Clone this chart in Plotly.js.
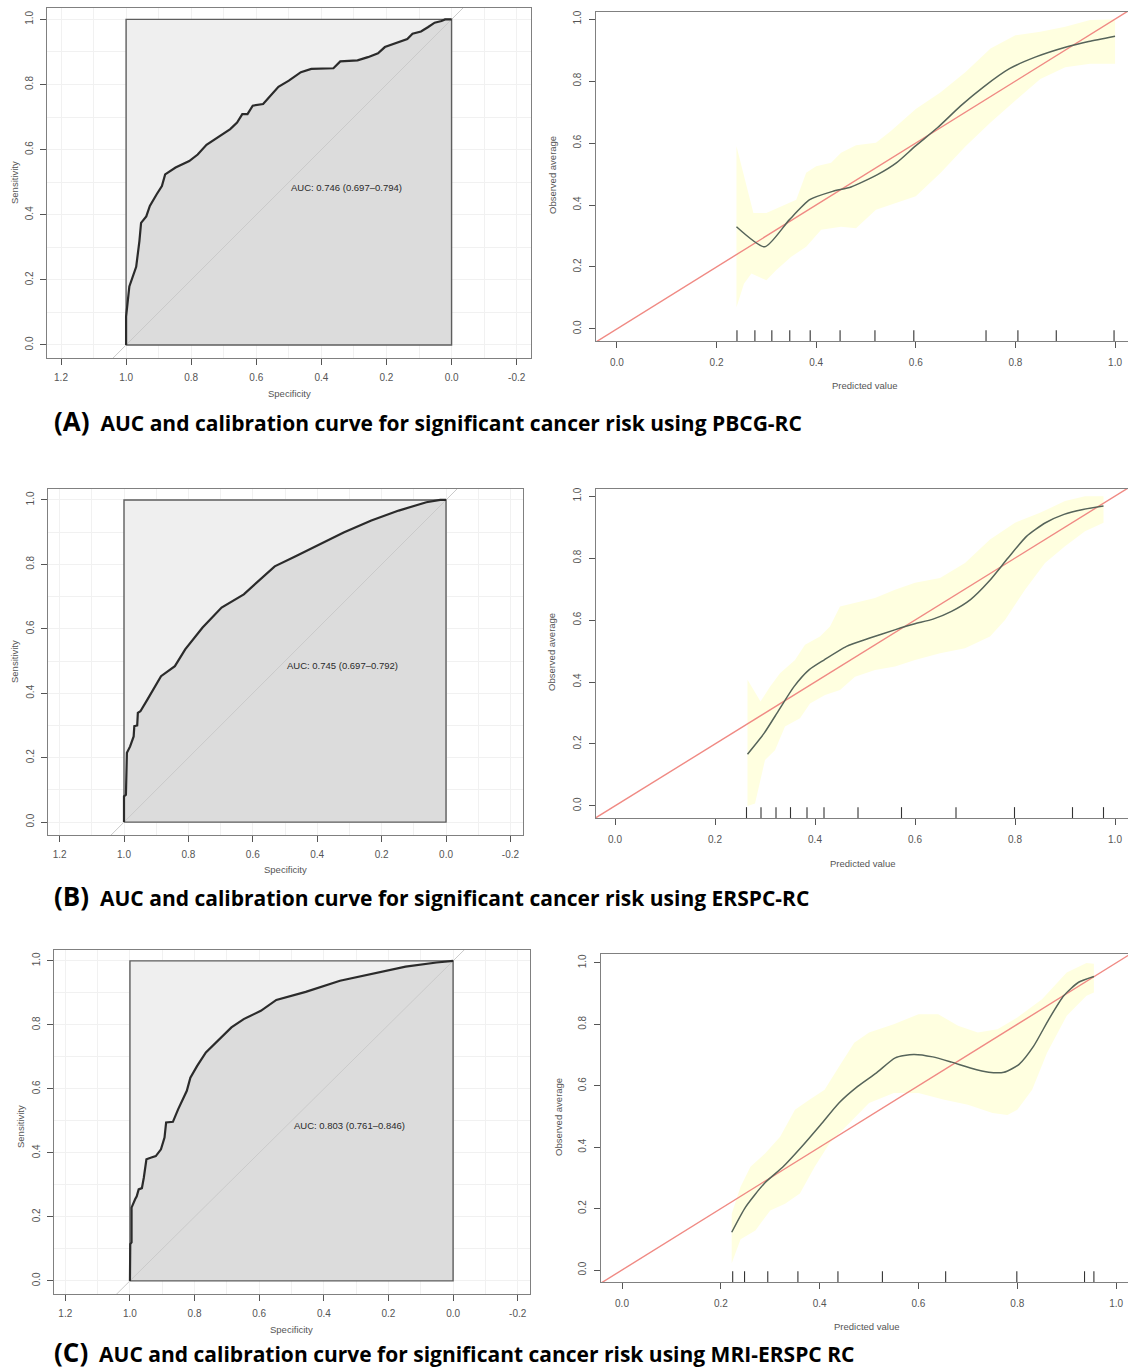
<!DOCTYPE html>
<html>
<head>
<meta charset="utf-8">
<script src="https://cdn.plot.ly/plotly-3.0.1.min.js"></script>
<style>html,body{margin:0;padding:0;background:#fff;}#chart{width:1128px;height:1369px;}</style>
</head>
<body>
<div id="chart"></div>
<script>
// ---------------- DATA ----------------
// ROC curves (specificity, sensitivity)
const rocA_spec = [1, 1, 0.99, 0.98, 0.969, 0.959, 0.954, 0.938, 0.927, 0.906, 0.89, 0.88, 0.848, 0.806, 0.78, 0.753, 0.711, 0.68, 0.659, 0.643, 0.627, 0.611, 0.579, 0.553, 0.532, 0.5, 0.463, 0.431, 0.363, 0.342, 0.289, 0.257, 0.226, 0.205, 0.162, 0.136, 0.12, 0.094, 0.073, 0.052, 0.031, 0.02, 0];
const rocA_sens = [0, 0.087, 0.18, 0.21, 0.24, 0.32, 0.375, 0.395, 0.427, 0.463, 0.488, 0.524, 0.545, 0.565, 0.585, 0.615, 0.642, 0.663, 0.683, 0.709, 0.709, 0.735, 0.74, 0.77, 0.793, 0.812, 0.838, 0.848, 0.85, 0.871, 0.874, 0.884, 0.896, 0.915, 0.93, 0.94, 0.956, 0.963, 0.976, 0.99, 0.995, 1.0, 1.0];

const rocB_spec = [1, 1, 0.994, 0.991, 0.981, 0.97, 0.968, 0.959, 0.957, 0.949, 0.927, 0.906, 0.885, 0.842, 0.81, 0.756, 0.697, 0.628, 0.564, 0.532, 0.467, 0.382, 0.318, 0.232, 0.147, 0.061, 0.018, 0];
const rocB_sens = [0, 0.08, 0.085, 0.215, 0.235, 0.266, 0.298, 0.30, 0.339, 0.344, 0.381, 0.417, 0.453, 0.484, 0.536, 0.604, 0.666, 0.707, 0.765, 0.794, 0.825, 0.868, 0.899, 0.936, 0.967, 0.993, 1.0, 1.0];

const rocC_spec = [1, 0.999, 0.995, 0.995, 0.984, 0.979, 0.973, 0.963, 0.957, 0.949, 0.936, 0.92, 0.904, 0.893, 0.888, 0.867, 0.851, 0.824, 0.813, 0.792, 0.765, 0.723, 0.686, 0.648, 0.595, 0.547, 0.456, 0.35, 0.254, 0.147, 0.051, 0];
const rocC_sens = [0, 0.115, 0.12, 0.229, 0.255, 0.264, 0.286, 0.29, 0.323, 0.38, 0.385, 0.39, 0.411, 0.448, 0.495, 0.497, 0.536, 0.594, 0.635, 0.672, 0.714, 0.755, 0.792, 0.818, 0.844, 0.878, 0.903, 0.938, 0.958, 0.982, 0.995, 1.0];

const maxAucX = [1, 0, 0, 1, 1];
const maxAucY = [0, 0, 1, 1, 0];
const rocDiagX = [1.4, -0.4];
const rocDiagY = [-0.4, 1.4];

const aucLabels = ['AUC: 0.746 (0.697\u20130.794)', 'AUC: 0.745 (0.697\u20130.792)', 'AUC: 0.803 (0.761\u20130.846)'];

// Calibration curves
const calA_x = [0.24, 0.297, 0.346, 0.387, 0.433, 0.47, 0.523, 0.561, 0.599, 0.644, 0.69, 0.735, 0.788, 0.841, 0.902, 0.947, 1.0];
const calA_y = [0.33, 0.265, 0.352, 0.417, 0.444, 0.458, 0.498, 0.536, 0.59, 0.65, 0.72, 0.78, 0.84, 0.878, 0.91, 0.928, 0.945];
const calA_upX = [0.24, 0.274, 0.3, 0.33, 0.36, 0.38, 0.4, 0.43, 0.45, 0.48, 0.52, 0.55, 0.6, 0.65, 0.7, 0.75, 0.8, 0.85, 0.9, 0.95, 1.0];
const calA_up = [0.59, 0.374, 0.374, 0.395, 0.417, 0.504, 0.525, 0.536, 0.569, 0.593, 0.601, 0.639, 0.71, 0.764, 0.829, 0.905, 0.948, 0.959, 0.975, 0.997, 1.0];
const calA_loX = [0.24, 0.255, 0.27, 0.3, 0.32, 0.35, 0.38, 0.41, 0.45, 0.48, 0.52, 0.56, 0.6, 0.65, 0.7, 0.75, 0.8, 0.85, 0.9, 0.95, 1.0];
const calA_lo = [0.07, 0.146, 0.179, 0.157, 0.19, 0.233, 0.265, 0.32, 0.33, 0.325, 0.385, 0.406, 0.428, 0.504, 0.59, 0.666, 0.737, 0.807, 0.845, 0.856, 0.856];
const calA_rug = [0.241, 0.277, 0.311, 0.347, 0.388, 0.448, 0.518, 0.596, 0.741, 0.805, 0.882, 0.998];

const calB_x = [0.265, 0.298, 0.328, 0.358, 0.388, 0.418, 0.463, 0.508, 0.561, 0.598, 0.636, 0.673, 0.711, 0.748, 0.786, 0.823, 0.861, 0.898, 0.936, 0.977];
const calB_y = [0.167, 0.234, 0.31, 0.385, 0.439, 0.471, 0.515, 0.541, 0.569, 0.587, 0.603, 0.628, 0.666, 0.725, 0.80, 0.87, 0.914, 0.941, 0.957, 0.968];
const calB_upX = [0.265, 0.291, 0.31, 0.33, 0.36, 0.38, 0.41, 0.43, 0.45, 0.48, 0.52, 0.56, 0.6, 0.65, 0.7, 0.75, 0.8, 0.85, 0.9, 0.94, 0.977];
const calB_up = [0.407, 0.337, 0.385, 0.428, 0.471, 0.52, 0.547, 0.579, 0.644, 0.655, 0.671, 0.698, 0.72, 0.736, 0.784, 0.86, 0.914, 0.946, 0.984, 1.0, 1.0];
const calB_loX = [0.265, 0.28, 0.3, 0.32, 0.34, 0.37, 0.39, 0.42, 0.45, 0.48, 0.52, 0.56, 0.6, 0.65, 0.7, 0.75, 0.78, 0.82, 0.86, 0.9, 0.94, 0.977];
const calB_lo = [0.0, 0.008, 0.148, 0.18, 0.256, 0.283, 0.331, 0.358, 0.374, 0.417, 0.439, 0.45, 0.471, 0.493, 0.509, 0.547, 0.60, 0.698, 0.784, 0.838, 0.887, 0.914];
const calB_rug = [0.263, 0.292, 0.322, 0.351, 0.384, 0.418, 0.486, 0.573, 0.682, 0.799, 0.915, 0.977];

const calC_x = [0.222, 0.25, 0.288, 0.326, 0.364, 0.402, 0.439, 0.477, 0.515, 0.553, 0.59, 0.629, 0.667, 0.705, 0.742, 0.773, 0.803, 0.833, 0.864, 0.894, 0.924, 0.955];
const calC_y = [0.123, 0.205, 0.282, 0.336, 0.402, 0.473, 0.544, 0.598, 0.642, 0.691, 0.702, 0.694, 0.677, 0.658, 0.644, 0.644, 0.669, 0.729, 0.817, 0.893, 0.937, 0.956];
const calC_upX = [0.222, 0.24, 0.26, 0.29, 0.32, 0.35, 0.38, 0.41, 0.44, 0.47, 0.5, 0.55, 0.6, 0.64, 0.68, 0.72, 0.76, 0.8, 0.85, 0.9, 0.94, 0.955];
const calC_up = [0.183, 0.271, 0.336, 0.38, 0.434, 0.522, 0.555, 0.587, 0.664, 0.74, 0.773, 0.80, 0.833, 0.833, 0.795, 0.773, 0.784, 0.822, 0.882, 0.969, 1.0, 0.997];
const calC_loX = [0.222, 0.24, 0.27, 0.3, 0.33, 0.36, 0.39, 0.42, 0.46, 0.5, 0.55, 0.6, 0.65, 0.7, 0.75, 0.78, 0.8, 0.83, 0.86, 0.9, 0.94, 0.955];
const calC_lo = [0.022, 0.10, 0.129, 0.194, 0.216, 0.249, 0.336, 0.413, 0.478, 0.544, 0.576, 0.576, 0.555, 0.538, 0.511, 0.505, 0.522, 0.587, 0.707, 0.828, 0.893, 0.904];
const calC_rug = [0.224, 0.248, 0.295, 0.356, 0.437, 0.527, 0.655, 0.799, 0.936, 0.955];

const calDiag = [-0.2, 1.2];

// Ticks
const rocXTickVals = [1.2, 1.0, 0.8, 0.6, 0.4, 0.2, 0.0, -0.2];
const rocXTickText = ['1.2', '1.0', '0.8', '0.6', '0.4', '0.2', '0.0', '-0.2'];
const unitTickVals = [0, 0.2, 0.4, 0.6, 0.8, 1.0];
const unitTickText = ['0.0', '0.2', '0.4', '0.6', '0.8', '1.0'];

const captions = [
  ['(A)', 'AUC and calibration curve for significant cancer risk using PBCG-RC'],
  ['(B)', 'AUC and calibration curve for significant cancer risk using ERSPC-RC'],
  ['(C)', 'AUC and calibration curve for significant cancer risk using MRI-ERSPC RC']
];

// ---------------- LAYOUT GEOMETRY (pixels) ----------------
const W = 1128, H = 1369;
const rocPanels = [
  {frame: [47, 531, 8, 358], xr: [1.243, -0.244], yr: [-0.040, 1.035], spec: rocA_spec, sens: rocA_sens,
   ytitle: [14, 183], xtitle: [289, 393]},
  {frame: [48, 523, 489, 835], xr: [1.236, -0.239], yr: [-0.040, 1.034], spec: rocB_spec, sens: rocB_sens,
   ytitle: [14, 662], xtitle: [285, 869]},
  {frame: [54, 530, 950, 1294], xr: [1.235, -0.238], yr: [-0.041, 1.034], spec: rocC_spec, sens: rocC_sens,
   ytitle: [20, 1127], xtitle: [291, 1329]}
];
const calPanels = [
  {frame: [596, 1128, 12, 341], xr: [-0.042, 1.026], yr: [-0.039, 1.023],
   x: calA_x, y: calA_y, upX: calA_upX, up: calA_up, loX: calA_loX, lo: calA_lo, rug: calA_rug,
   ytitle: [553, 175], xtitle: [864, 386]},
  {frame: [596, 1128, 489, 818], xr: [-0.038, 1.026], yr: [-0.039, 1.023],
   x: calB_x, y: calB_y, upX: calB_upX, up: calB_up, loX: calB_loX, lo: calB_lo, rug: calB_rug,
   ytitle: [551, 652], xtitle: [862, 863]},
  {frame: [601, 1128, 954, 1282], xr: [-0.0425, 1.024], yr: [-0.039, 1.029],
   x: calC_x, y: calC_y, upX: calC_upX, up: calC_up, loX: calC_loX, lo: calC_lo, rug: calC_rug,
   ytitle: [558, 1117], xtitle: [866, 1326]}
];
const captionY = [421, 896, 1352];

const tickFont = {family: 'Liberation Sans, Arial, sans-serif', size: 10, color: '#555'};
const frameColor = '#808080';

const traces = [];
const layout = {
  width: W, height: H,
  margin: {l: 0, r: 0, t: 0, b: 0},
  paper_bgcolor: '#ffffff', plot_bgcolor: '#ffffff',
  showlegend: false,
  font: tickFont,
  annotations: []
};

function px2x(p) { return p / W; }
function px2y(p) { return 1 - p / H; }

function axisBase(frame, isX) {
  return {
    domain: isX ? [px2x(frame[0]), Math.min(1, px2x(frame[1]))] : [px2y(frame[3]), px2y(frame[2])],
    showline: true, linecolor: frameColor, linewidth: 1,
    ticks: 'outside', ticklen: 6, tickcolor: '#555', tickwidth: 1,
    tickfont: tickFont, zeroline: false, showgrid: false,
    tickmode: 'array', ticklabelstandoff: 4, fixedrange: true
  };
}

function addTitle(text, pos, rotate) {
  layout.annotations.push({
    text: text, xref: 'paper', yref: 'paper', x: px2x(pos[0]), y: px2y(pos[1]),
    xanchor: 'center', yanchor: 'middle', showarrow: false, textangle: rotate ? -90 : 0,
    font: {family: 'Liberation Sans, Arial, sans-serif', size: 9.5, color: '#555'}
  });
}

let axIdx = 1;
function addRoc(p, k) {
  const n = axIdx++;
  const xa = n === 1 ? 'x' : 'x' + n, ya = n === 1 ? 'y' : 'y' + n;
  const xk = n === 1 ? 'xaxis' : 'xaxis' + n, yk = n === 1 ? 'yaxis' : 'yaxis' + n;
  const common = {xaxis: xa, yaxis: ya, type: 'scatter', mode: 'lines', hoverinfo: 'skip'};
  traces.push(Object.assign({}, common, {x: maxAucX, y: maxAucY, fill: 'toself', fillcolor: '#efefef', line: {width: 0}}));
  traces.push(Object.assign({}, common, {x: p.spec, y: p.sens, fill: 'tozeroy', fillcolor: '#dcdcdc', line: {width: 0}}));
  traces.push(Object.assign({}, common, {x: rocDiagX, y: rocDiagY, line: {color: '#cacaca', width: 1}}));
  traces.push(Object.assign({}, common, {x: maxAucX, y: maxAucY, line: {color: '#5e5e5e', width: 1.4}}));
  traces.push(Object.assign({}, common, {x: p.spec, y: p.sens, line: {color: '#2b2b2b', width: 2.2}}));

  const xaxis = axisBase(p.frame, true);
  Object.assign(xaxis, {anchor: ya, range: p.xr, mirror: true, tickvals: rocXTickVals, ticktext: rocXTickText,
    showgrid: true, gridcolor: '#f1f1f1', gridwidth: 1,
    minor: {dtick: 0.1, tick0: 0, showgrid: true, gridcolor: '#f1f1f1', ticklen: 0}});
  const yaxis = axisBase(p.frame, false);
  Object.assign(yaxis, {anchor: xa, range: p.yr, mirror: true, tickvals: unitTickVals, ticktext: unitTickText,
    tickangle: -90, ticklabelstandoff: 3, showgrid: true, gridcolor: '#f1f1f1', gridwidth: 1,
    minor: {dtick: 0.1, tick0: 0, showgrid: true, gridcolor: '#f1f1f1', ticklen: 0}});
  layout[xk] = xaxis; layout[yk] = yaxis;

  layout.annotations.push({
    text: aucLabels[k], xref: xa, yref: ya, x: 0.5, y: 0.485, xanchor: 'left', yanchor: 'middle',
    showarrow: false, font: {family: 'Liberation Sans, Arial, sans-serif', size: 9.5, color: '#2a2a2a'}
  });
  addTitle('Sensitivity', p.ytitle, true);
  addTitle('Specificity', p.xtitle, false);
}

function addCal(p) {
  const n = axIdx++;
  const xa = 'x' + n, ya = 'y' + n;
  const xk = 'xaxis' + n, yk = 'yaxis' + n;
  const common = {xaxis: xa, yaxis: ya, type: 'scatter', mode: 'lines', hoverinfo: 'skip'};
  const bandX = p.upX.concat(p.loX.slice().reverse());
  const bandY = p.up.concat(p.lo.slice().reverse());
  traces.push(Object.assign({}, common, {x: bandX, y: bandY, fill: 'toself', fillcolor: '#ffffe0', line: {width: 0}}));
  traces.push(Object.assign({}, common, {x: calDiag, y: calDiag, line: {color: '#f08a84', width: 1.4}}));
  traces.push(Object.assign({}, common, {x: p.x, y: p.y, line: {color: '#56645a', width: 1.5, shape: 'spline', smoothing: 0.6}}));
  const rx = [], ry = [];
  const rb = p.yr[0], rt = p.yr[0] + 0.035;
  p.rug.forEach(v => { rx.push(v, v, null); ry.push(rb, rt, null); });
  traces.push(Object.assign({}, common, {x: rx, y: ry, line: {color: '#333', width: 1.1}}));

  const xaxis = axisBase(p.frame, true);
  Object.assign(xaxis, {anchor: ya, range: p.xr, mirror: true, tickvals: unitTickVals, ticktext: unitTickText, ticklabelstandoff: 6});
  const yaxis = axisBase(p.frame, false);
  Object.assign(yaxis, {anchor: xa, range: p.yr, mirror: false, tickvals: unitTickVals, ticktext: unitTickText, tickangle: -90, ticklabelstandoff: 4});
  layout[xk] = xaxis; layout[yk] = yaxis;

  addTitle('Observed average', p.ytitle, true);
  addTitle('Predicted value', p.xtitle, false);
}

for (let k = 0; k < 3; k++) {
  addRoc(rocPanels[k], k);
  addCal(calPanels[k]);
}

captions.forEach((c, k) => {
  layout.annotations.push({
    text: '<span style="font-size:26px">' + c[0] + '</span>  ' + c[1],
    xref: 'paper', yref: 'paper', x: px2x(52), y: px2y(captionY[k]),
    xanchor: 'left', yanchor: 'middle', showarrow: false,
    font: {family: 'Open Sans, sans-serif', size: 21, color: '#000', weight: 'bold'}
  });
});

Plotly.newPlot('chart', traces, layout, {displayModeBar: false, staticPlot: true});
</script>
</body>
</html>
